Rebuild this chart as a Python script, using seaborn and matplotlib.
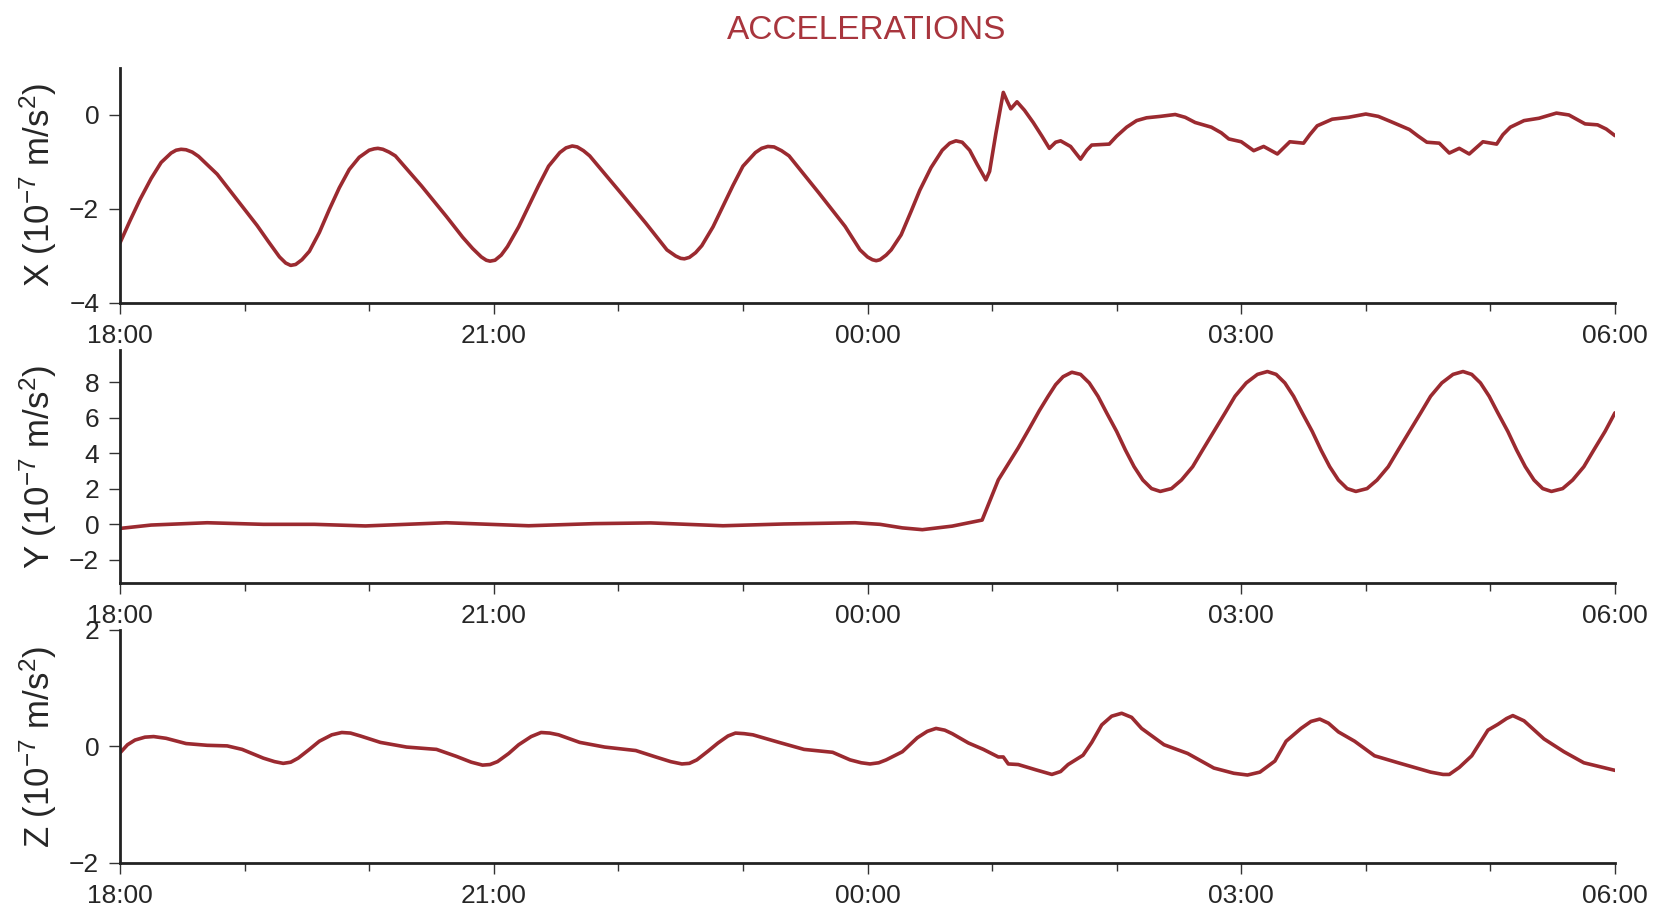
import matplotlib
matplotlib.use("Agg")
import matplotlib.pyplot as plt
import matplotlib.dates as mdates
import pandas as pd
import seaborn as sns

# hours after 18:00 and accelerations in 10^-7 m/s^2
x_hours = [0.00, 0.08, 0.16, 0.25, 0.33, 0.41, 0.45, 0.49, 0.53, 0.58, 0.63, 0.78, 0.98, 1.10, 1.19,
           1.28, 1.33, 1.37, 1.41, 1.46, 1.52, 1.60, 1.68, 1.76, 1.84, 1.92, 2.00, 2.04, 2.07, 2.11,
           2.16, 2.21, 2.42, 2.62, 2.75, 2.83, 2.90, 2.94, 2.97, 3.01, 3.06, 3.11, 3.20, 3.28, 3.36,
           3.44, 3.53, 3.58, 3.63, 3.67, 3.72, 3.77, 4.02, 4.22, 4.39, 4.46, 4.50, 4.53, 4.57, 4.62,
           4.67, 4.76, 4.84, 4.92, 5.00, 5.10, 5.15, 5.20, 5.25, 5.31, 5.37, 5.61, 5.82, 5.94, 6.00,
           6.04, 6.07, 6.10, 6.15, 6.19, 6.27, 6.35, 6.42, 6.51, 6.60, 6.66, 6.71, 6.76, 6.82, 6.88,
           6.95, 6.98, 7.03, 7.09, 7.12, 7.15, 7.20, 7.26, 7.33, 7.40, 7.46, 7.51, 7.55, 7.63, 7.71,
           7.76, 7.80, 7.94, 8.00, 8.08, 8.16, 8.24, 8.35, 8.47, 8.55, 8.63, 8.76, 8.84, 8.90, 9.00,
           9.10, 9.18, 9.29, 9.39, 9.50, 9.55, 9.61, 9.73, 9.86, 10.00, 10.10, 10.20, 10.35, 10.42,
           10.49, 10.59, 10.67, 10.75, 10.83, 10.94, 11.05, 11.10, 11.16, 11.27, 11.39, 11.53, 11.63,
           11.76, 11.86, 11.93, 12.00]
x_vals = [-2.72, -2.25, -1.80, -1.35, -1.01, -0.81, -0.75, -0.73, -0.74, -0.79, -0.88, -1.26, -1.94, -2.35, -2.69,
          -3.02, -3.15, -3.20, -3.18, -3.08, -2.90, -2.50, -2.01, -1.55, -1.16, -0.90, -0.75, -0.72, -0.71, -0.73,
          -0.79, -0.87, -1.51, -2.16, -2.60, -2.84, -3.02, -3.09, -3.11, -3.09, -2.98, -2.80, -2.38, -1.94, -1.50,
          -1.09, -0.80, -0.70, -0.66, -0.68, -0.76, -0.87, -1.66, -2.30, -2.87, -3.00, -3.05, -3.06, -3.03, -2.93,
          -2.78, -2.38, -1.94, -1.50, -1.09, -0.80, -0.71, -0.67, -0.68, -0.76, -0.87, -1.66, -2.37, -2.87, -3.02,
          -3.08, -3.10, -3.08, -2.98, -2.87, -2.55, -2.05, -1.60, -1.12, -0.75, -0.60, -0.55, -0.58, -0.75, -1.05,
          -1.38, -1.20, -0.40, 0.48, 0.30, 0.13, 0.28, 0.10, -0.16, -0.45, -0.71, -0.58, -0.55, -0.67, -0.94,
          -0.75, -0.64, -0.62, -0.45, -0.26, -0.12, -0.06, -0.03, 0.01, -0.05, -0.16, -0.26, -0.38, -0.51, -0.57,
          -0.76, -0.67, -0.83, -0.57, -0.60, -0.42, -0.23, -0.09, -0.05, 0.02, -0.03, -0.14, -0.31, -0.45,
          -0.58, -0.60, -0.81, -0.71, -0.83, -0.57, -0.62, -0.42, -0.26, -0.12, -0.07, 0.04, 0.00,
          -0.19, -0.21, -0.30, -0.44]

y_hours = [0.00, 0.25, 0.70, 1.15, 1.56, 1.97, 2.62, 3.28, 3.81, 4.26, 4.84, 5.33, 5.90, 6.10,
           6.28, 6.44, 6.68, 6.92, 7.05, 7.13, 7.21, 7.30, 7.38, 7.45, 7.51, 7.57, 7.64,
           7.71, 7.78, 7.85, 7.92, 8.00, 8.07, 8.14, 8.21, 8.28, 8.35,
           8.44, 8.52, 8.61, 8.69, 8.78, 8.87, 8.95, 9.04, 9.13, 9.21,
           9.28, 9.35, 9.42, 9.49, 9.57, 9.64, 9.71, 9.78, 9.85, 9.92,
           10.01, 10.09, 10.18, 10.26, 10.35, 10.44, 10.52, 10.61, 10.70, 10.78,
           10.85, 10.92, 10.99, 11.06, 11.14, 11.21, 11.28, 11.35, 11.42, 11.49,
           11.58, 11.66, 11.75, 11.83, 11.92, 12.00]
y_vals = [-0.23, -0.04, 0.09, 0.00, 0.00, -0.09, 0.09, -0.08, 0.04, 0.08, -0.08, 0.02, 0.09, 0.00,
          -0.20, -0.30, -0.10, 0.24, 2.50, 3.40, 4.30, 5.40, 6.40, 7.20, 7.85, 8.30, 8.55,
          8.43, 7.95, 7.20, 6.26, 5.22, 4.18, 3.24, 2.49, 2.01, 1.85,
          2.01, 2.49, 3.24, 4.18, 5.22, 6.26, 7.20, 7.95, 8.43, 8.59,
          8.43, 7.95, 7.20, 6.26, 5.22, 4.18, 3.24, 2.49, 2.01, 1.85,
          2.01, 2.49, 3.24, 4.18, 5.22, 6.26, 7.20, 7.95, 8.43, 8.59,
          8.43, 7.95, 7.20, 6.26, 5.22, 4.18, 3.24, 2.49, 2.01, 1.85,
          2.01, 2.49, 3.24, 4.18, 5.22, 6.27]

z_hours = [0.00, 0.06, 0.12, 0.20, 0.27, 0.37, 0.53, 0.70, 0.86, 0.98, 1.15, 1.24, 1.31, 1.37, 1.43,
           1.52, 1.60, 1.70, 1.78, 1.85, 1.93, 2.09, 2.30, 2.54, 2.70, 2.82, 2.91, 2.97, 3.03, 3.12,
           3.20, 3.30, 3.38, 3.45, 3.52, 3.69, 3.89, 4.14, 4.30, 4.42, 4.51, 4.57, 4.63, 4.72, 4.80,
           4.88, 4.94, 5.01, 5.08, 5.29, 5.49, 5.72, 5.86, 5.95, 6.02, 6.09, 6.15, 6.28, 6.40, 6.48,
           6.55, 6.62, 6.68, 6.81, 6.93, 7.05, 7.09, 7.11, 7.13, 7.21, 7.35, 7.48, 7.55, 7.61, 7.73,
           7.80, 7.88, 7.96, 8.04, 8.12, 8.20, 8.38, 8.57, 8.78, 8.94, 9.05, 9.15, 9.27, 9.36, 9.48,
           9.56, 9.63, 9.70, 9.78, 9.91, 10.07, 10.26, 10.52, 10.62, 10.67, 10.75, 10.85, 10.98,
           11.06, 11.13, 11.18, 11.27, 11.43, 11.59, 11.75, 12.00]
z_vals = [-0.11, 0.03, 0.11, 0.16, 0.17, 0.14, 0.05, 0.02, 0.01, -0.05, -0.20, -0.26, -0.29, -0.27, -0.20,
          -0.05, 0.09, 0.20, 0.24, 0.23, 0.18, 0.07, -0.01, -0.05, -0.17, -0.27, -0.32, -0.31, -0.26, -0.12,
          0.03, 0.17, 0.24, 0.23, 0.20, 0.07, -0.01, -0.07, -0.18, -0.26, -0.30, -0.29, -0.23, -0.08, 0.06,
          0.18, 0.23, 0.22, 0.20, 0.07, -0.05, -0.10, -0.23, -0.28, -0.30, -0.28, -0.23, -0.09, 0.15, 0.26,
          0.31, 0.28, 0.22, 0.06, -0.05, -0.18, -0.18, -0.24, -0.30, -0.31, -0.40, -0.48, -0.43, -0.31, -0.15,
          0.07, 0.37, 0.52, 0.57, 0.50, 0.31, 0.03, -0.12, -0.37, -0.46, -0.49, -0.44, -0.25, 0.09, 0.31,
          0.43, 0.47, 0.40, 0.25, 0.09, -0.16, -0.28, -0.44, -0.48, -0.48, -0.36, -0.16, 0.28,
          0.38, 0.48, 0.53, 0.44, 0.13, -0.09, -0.28, -0.41]

panel_names = ["X", "Y", "Z"]
panel_ylims = [(-4, 1), (-3.3, 9.8), (-2, 2)]
panel_yticks = [[-4, -2, 0], [-2, 0, 2, 4, 6, 8], [-2, 0, 2]]

LINE = "#9b2a30"
TITLE = "#a8353d"

sns.set_style("ticks")
plt.rcParams["font.family"] = ["Liberation Sans", "DejaVu Sans"]
plt.rcParams["mathtext.fontset"] = "custom"
plt.rcParams["mathtext.rm"] = "Liberation Sans"
plt.rcParams["mathtext.it"] = "Liberation Sans:italic"
plt.rcParams["mathtext.bf"] = "Liberation Sans:bold"

start = pd.Timestamp("2021-01-01 18:00")

fig = plt.figure(figsize=(16.67, 9.11), dpi=100)
boxes = [[0.072, 0.6674, 0.8968, 0.258],
         [0.072, 0.360, 0.8968, 0.2558],
         [0.072, 0.0527, 0.8968, 0.2558]]

series = [(x_hours, x_vals), (y_hours, y_vals), (z_hours, z_vals)]

for i, (hours, vals) in enumerate(series):
    ax = fig.add_axes(boxes[i])
    df = pd.DataFrame({"time": start + pd.to_timedelta(hours, unit="h"), "value": vals})
    sns.lineplot(data=df, x="time", y="value", ax=ax, color=LINE, linewidth=2.6)
    ax.lines[-1].set_solid_joinstyle("round")
    ax.set_xlim(start, start + pd.Timedelta(hours=12))
    ax.set_ylim(*panel_ylims[i])
    ax.set_yticks(panel_yticks[i])
    ax.xaxis.set_major_locator(mdates.HourLocator(interval=3))
    ax.xaxis.set_minor_locator(mdates.HourLocator())
    ax.xaxis.set_major_formatter(mdates.DateFormatter("%H:%M"))
    ax.set_xlabel("")
    ax.set_ylabel(panel_names[i] + r" (10$^{-7}$ m/s$^{2}$)", fontsize=25)
    ax.yaxis.set_label_coords(-0.041, 0.5)
    sns.despine(ax=ax)
    for side in ["left", "bottom"]:
        ax.spines[side].set_linewidth(2)
        ax.spines[side].set_color("#222222")
    ax.tick_params(axis="both", which="major", labelsize=19, length=8, width=1, color="#333333")
    ax.tick_params(axis="x", which="minor", length=6, width=1, color="#333333")
    ax.tick_params(axis="x", which="major", pad=7)
    ax.tick_params(axis="y", which="major", pad=7)

fig.text(0.5196, 0.967, "ACCELERATIONS", color=TITLE, fontsize=24, ha="center", va="center")

fig.savefig("out.png", dpi=100)
